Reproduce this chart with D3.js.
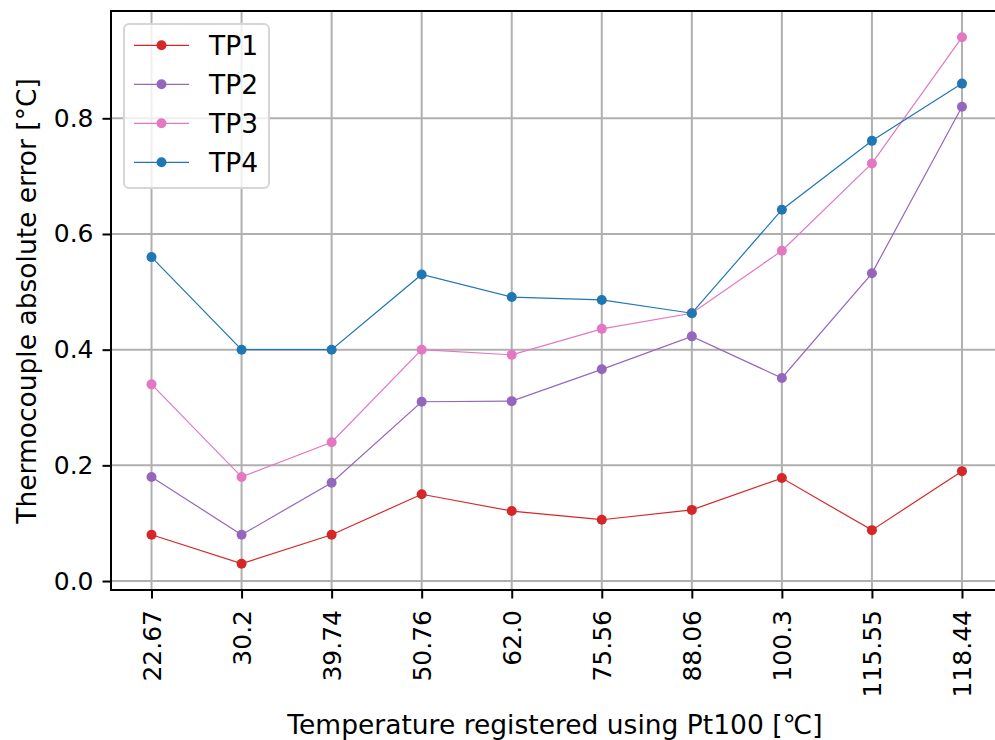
<!DOCTYPE html>
<html>
<head>
<meta charset="utf-8">
<script src="https://cdn.jsdelivr.net/npm/d3@7"></script>
<style>
  body { margin: 0; background: #fff; }
  text { font-family: "DejaVu Sans", sans-serif; fill: #000; }
</style>
</head>
<body>
<div id="chart"></div>
<script>
// x categories: temperature registered using Pt100
var temps = ["22.67", "30.2", "39.74", "50.76", "62.0", "75.56", "88.06", "100.3", "115.55", "118.44"];

var tp1 = [0.08, 0.03, 0.08, 0.15, 0.121, 0.106, 0.123, 0.178, 0.088, 0.19];
var tp2 = [0.18, 0.08, 0.17, 0.31, 0.311, 0.366, 0.423, 0.351, 0.532, 0.82];
var tp3 = [0.34, 0.18, 0.24, 0.40, 0.391, 0.436, 0.463, 0.571, 0.722, 0.94];
var tp4 = [0.56, 0.40, 0.40, 0.53, 0.491, 0.486, 0.463, 0.642, 0.761, 0.86];

var seriesNames = ["TP1", "TP2", "TP3", "TP4"];
var seriesColors = ["#d62728", "#9467bd", "#e377c2", "#1f77b4"];
var yTicks = [0.0, 0.2, 0.4, 0.6, 0.8];

var series = [tp1, tp2, tp3, tp4].map(function(vals, i) {
    return { name: seriesNames[i], color: seriesColors[i], values: vals };
});

var W = 995, H = 740;
var svg = d3.select("#chart").append("svg")
    .attr("width", W)
    .attr("height", H);

var m = { left: 111, top: 11, bottom: 590, right: 1002.5 };

var x = d3.scaleLinear()
    .domain([-0.45, temps.length - 1 + 0.45])
    .range([m.left, m.right]);

var y = d3.scaleLinear()
    .domain([-0.0155, 0.9855])
    .range([m.bottom, m.top]);

var g = svg.append("g");

// grid
g.selectAll(".vgrid")
    .data(temps)
    .enter().append("line")
    .attr("x1", function(d, i) { return x(i); })
    .attr("x2", function(d, i) { return x(i); })
    .attr("y1", m.top).attr("y2", m.bottom)
    .attr("stroke", "#b0b0b0").attr("stroke-width", 2);

g.selectAll(".hgrid")
    .data(yTicks)
    .enter().append("line")
    .attr("x1", m.left).attr("x2", m.right)
    .attr("y1", function(d) { return y(d); })
    .attr("y2", function(d) { return y(d); })
    .attr("stroke", "#b0b0b0").attr("stroke-width", 2);

// series
var line = d3.line()
    .x(function(d, i) { return x(i); })
    .y(function(d) { return y(d); });

series.forEach(function(s) {
    var sg = g.append("g");
    sg.append("path")
        .datum(s.values)
        .attr("fill", "none")
        .attr("stroke", s.color)
        .attr("stroke-width", 1.2)
        .attr("d", line);
    sg.selectAll("circle")
        .data(s.values)
        .enter().append("circle")
        .attr("cx", function(d, i) { return x(i); })
        .attr("cy", function(d) { return y(d); })
        .attr("r", 5)
        .attr("fill", s.color);
});

// axes
var xAxis = d3.axisBottom(x)
    .tickValues(d3.range(temps.length))
    .tickFormat(function(i) { return temps[i]; })
    .tickSize(8.5)
    .tickPadding(9);

var yAxis = d3.axisLeft(y)
    .tickValues(yTicks)
    .tickFormat(d3.format(".1f"))
    .tickSize(8.5)
    .tickPadding(9);

var gx = svg.append("g")
    .attr("transform", "translate(0," + m.bottom + ")")
    .call(xAxis);
gx.select(".domain").remove();
gx.selectAll(".tick line").attr("stroke", "#000").attr("stroke-width", 2);
gx.selectAll(".tick text")
    .attr("font-size", 25)
    .attr("font-family", "DejaVu Sans")
    .attr("text-anchor", "end")
    .attr("transform", "rotate(-90)")
    .attr("x", -20)
    .attr("y", 0)
    .attr("dy", "0.35em");

var gy = svg.append("g")
    .attr("transform", "translate(" + m.left + ",0)")
    .call(yAxis);
gy.select(".domain").remove();
gy.selectAll(".tick line").attr("stroke", "#000").attr("stroke-width", 2);
gy.selectAll(".tick text")
    .attr("font-size", 25)
    .attr("font-family", "DejaVu Sans");

// spines
svg.append("line").attr("x1", m.left).attr("x2", m.left).attr("y1", m.top).attr("y2", m.bottom)
    .attr("stroke", "#000").attr("stroke-width", 2).attr("stroke-linecap", "square");
svg.append("line").attr("x1", m.left).attr("x2", m.right).attr("y1", m.bottom).attr("y2", m.bottom)
    .attr("stroke", "#000").attr("stroke-width", 2).attr("stroke-linecap", "square");
svg.append("line").attr("x1", m.left).attr("x2", m.right).attr("y1", m.top).attr("y2", m.top)
    .attr("stroke", "#000").attr("stroke-width", 2).attr("stroke-linecap", "square");

// axis labels
svg.append("text")
    .attr("x", 555)
    .attr("y", 734)
    .attr("text-anchor", "middle")
    .attr("font-size", 26.5)
    .text("Temperature registered using Pt100 [\u2103]");

svg.append("text")
    .attr("transform", "translate(36,301) rotate(-90)")
    .attr("text-anchor", "middle")
    .attr("font-size", 26.5)
    .text("Thermocouple absolute error [\u00b0C]");

// legend
var legend = svg.append("g");
legend.append("rect")
    .attr("x", 124).attr("y", 24)
    .attr("width", 145).attr("height", 164)
    .attr("rx", 5)
    .attr("fill", "#fff").attr("fill-opacity", 0.8)
    .attr("stroke", "#d6d6d6").attr("stroke-width", 2);

var items = legend.selectAll(".item")
    .data(series)
    .enter().append("g")
    .attr("transform", function(d, i) { return "translate(0," + (45.3 + i * 39) + ")"; });

items.append("line")
    .attr("x1", 134).attr("x2", 189)
    .attr("stroke", function(d) { return d.color; })
    .attr("stroke-width", 1.2);
items.append("circle")
    .attr("cx", 161.5).attr("r", 5)
    .attr("fill", function(d) { return d.color; });
items.append("text")
    .attr("x", 209)
    .attr("dy", "0.36em")
    .attr("font-size", 26.5)
    .text(function(d) { return d.name; });
</script>
</body>
</html>
